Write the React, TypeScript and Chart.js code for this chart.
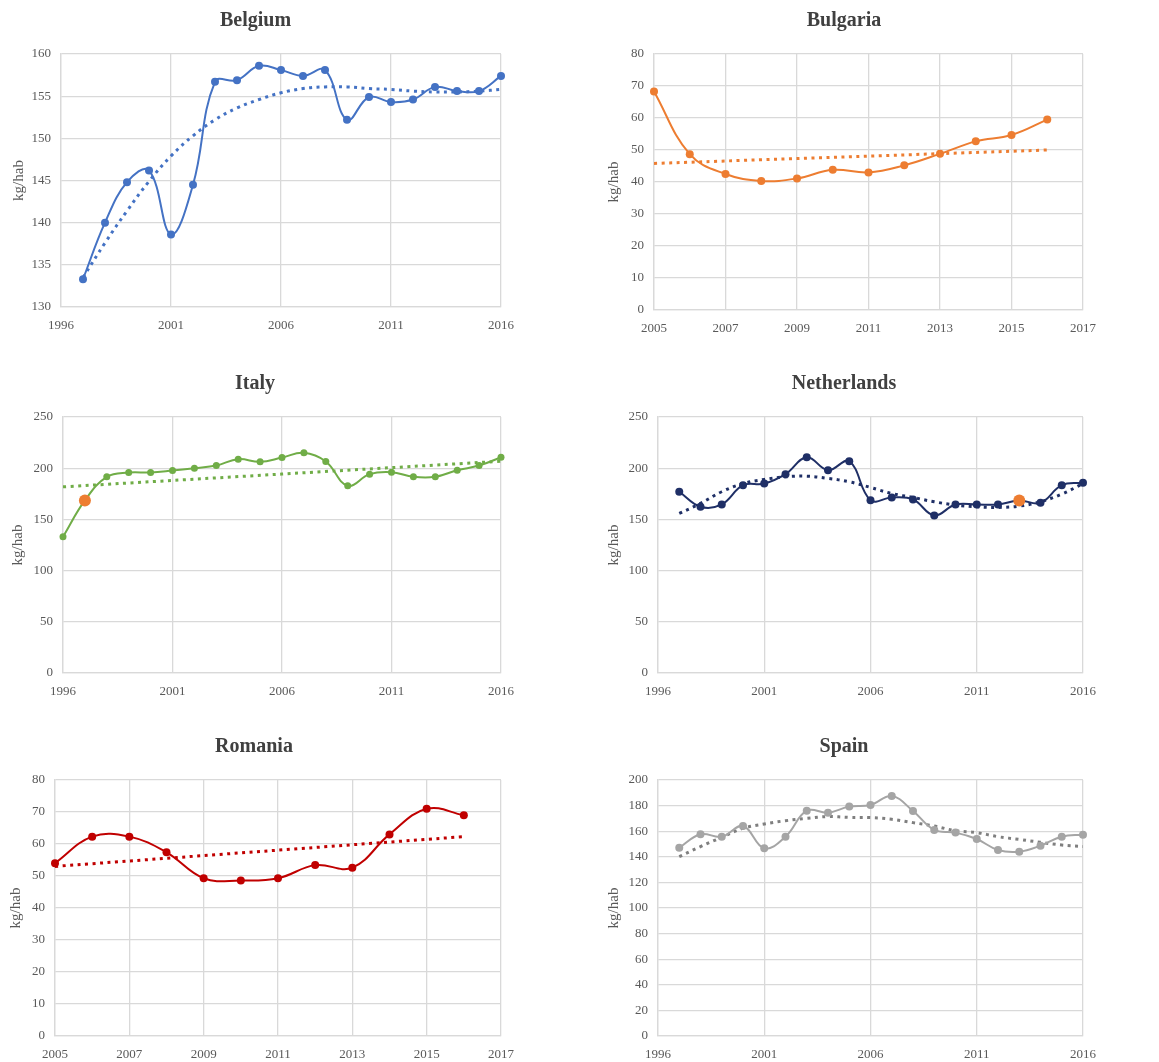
import React, { useEffect, useRef } from "react";
import { Chart, registerables } from "chart.js";

Chart.register(...registerables);

// ---------- DATA ----------
const BELGIUM_YEARS = [1997, 1998, 1999, 2000, 2001, 2002, 2003, 2004, 2005, 2006, 2007, 2008, 2009, 2010, 2011, 2012, 2013, 2014, 2015, 2016];
const BELGIUM_VALUES = [133.3, 140.0, 144.8, 146.2, 138.6, 144.5, 156.7, 156.9, 158.6, 158.1, 157.4, 158.1, 152.2, 154.9, 154.3, 154.6, 156.1, 155.6, 155.6, 157.4];
const BELGIUM_TREND_YEARS = BELGIUM_YEARS;
const BELGIUM_TREND = [133.5, 137.6, 141.4, 144.9, 147.9, 150.3, 152.2, 153.6, 154.6, 155.4, 155.9, 156.1, 156.1, 155.9, 155.8, 155.6, 155.5, 155.5, 155.6, 155.8];

const BULGARIA_YEARS = [2005, 2006, 2007, 2008, 2009, 2010, 2011, 2012, 2013, 2014, 2015, 2016];
const BULGARIA_VALUES = [68.3, 48.7, 42.5, 40.3, 41.1, 43.8, 43.0, 45.2, 48.8, 52.7, 54.7, 59.5];
const BULGARIA_TREND_YEARS = [2005, 2016];
const BULGARIA_TREND = [45.8, 50.0];

const ITALY_YEARS = [1996, 1997, 1998, 1999, 2000, 2001, 2002, 2003, 2004, 2005, 2006, 2007, 2008, 2009, 2010, 2011, 2012, 2013, 2014, 2015, 2016];
const ITALY_VALUES = [133, 168.5, 191.6, 195.8, 195.8, 197.7, 200, 202.6, 208.8, 206.2, 210.4, 215, 206.5, 182.8, 194.2, 196.1, 191.6, 191.6, 198, 202.6, 210.7];
const ITALY_TREND_YEARS = [1996, 2016];
const ITALY_TREND = [181.8, 206.8];

const NETHERLANDS_YEARS = [1997, 1998, 1999, 2000, 2001, 2002, 2003, 2004, 2005, 2006, 2007, 2008, 2009, 2010, 2011, 2012, 2013, 2014, 2015, 2016];
const NETHERLANDS_VALUES = [177, 162.3, 164.6, 183.4, 185, 194.2, 210.7, 198, 206.8, 168.8, 171.4, 169.5, 153.9, 164.6, 164.6, 164.6, 168.5, 166.2, 183.4, 185.7];
const NETHERLANDS_TREND_YEARS = NETHERLANDS_YEARS;
const NETHERLANDS_TREND = [155.8, 165.6, 177, 185, 189, 191.6, 192.2, 190, 186.7, 181.2, 175.3, 171.4, 167.2, 164, 162.3, 161.7, 163, 167.2, 174.7, 185];

const ROMANIA_YEARS = [2005, 2006, 2007, 2008, 2009, 2010, 2011, 2012, 2013, 2014, 2015, 2016];
const ROMANIA_VALUES = [54, 62.3, 62.3, 57.4, 49.3, 48.6, 49.3, 53.4, 52.6, 63, 71, 69];
const ROMANIA_TREND_YEARS = [2005, 2016];
const ROMANIA_TREND = [53, 62.3];

const SPAIN_YEARS = [1997, 1998, 1999, 2000, 2001, 2002, 2003, 2004, 2005, 2006, 2007, 2008, 2009, 2010, 2011, 2012, 2013, 2014, 2015, 2016];
const SPAIN_VALUES = [147.1, 157.6, 155.7, 164, 146.6, 155.7, 176, 174.5, 179.2, 180.5, 187.5, 175.8, 161, 158.9, 153.9, 145.3, 144, 148.7, 155.7, 157.3];
const SPAIN_TREND_YEARS = SPAIN_YEARS;
const SPAIN_TREND = [140.1, 148, 155.2, 162.2, 165.6, 168.2, 170, 171.4, 170.8, 170.6, 169.3, 166.7, 164, 160.4, 158.9, 155.7, 153.6, 151.3, 149.2, 148];

const Y_LABEL = "kg/hab";
const HIGHLIGHT_COLOR = "#ED7D31";

// ---------- PANEL CONFIGS ----------
type PanelCfg = {
  title: string;
  years: number[];
  values: number[];
  trendYears: number[];
  trend: number[];
  color: string;
  trendColor: string;
  xMin: number; xMax: number; xStep: number;
  yMin: number; yMax: number; yStep: number;
  highlight?: number;
  pointR: number;
  // layout
  yTitleX: number; L: number; R: number; T: number; B: number;
};

const PANELS: PanelCfg[] = [
  { title: "Belgium", years: BELGIUM_YEARS, values: BELGIUM_VALUES, trendYears: BELGIUM_TREND_YEARS, trend: BELGIUM_TREND,
    color: "#4472C4", trendColor: "#4472C4", xMin: 1996, xMax: 2016, xStep: 5, yMin: 130, yMax: 160, yStep: 5, pointR: 4,
    yTitleX: 19, L: 61, R: 505, T: 54, B: 307 },
  { title: "Bulgaria", years: BULGARIA_YEARS, values: BULGARIA_VALUES, trendYears: BULGARIA_TREND_YEARS, trend: BULGARIA_TREND,
    color: "#ED7D31", trendColor: "#ED7D31", xMin: 2005, xMax: 2017, xStep: 2, yMin: 0, yMax: 80, yStep: 10, pointR: 4,
    yTitleX: 614, L: 654, R: 1087, T: 54, B: 310 },
  { title: "Italy", years: ITALY_YEARS, values: ITALY_VALUES, trendYears: ITALY_TREND_YEARS, trend: ITALY_TREND,
    color: "#70AD47", trendColor: "#70AD47", xMin: 1996, xMax: 2016, xStep: 5, yMin: 0, yMax: 250, yStep: 50, highlight: 1, pointR: 3.5,
    yTitleX: 18, L: 63, R: 505, T: 417, B: 673 },
  { title: "Netherlands", years: NETHERLANDS_YEARS, values: NETHERLANDS_VALUES, trendYears: NETHERLANDS_TREND_YEARS, trend: NETHERLANDS_TREND,
    color: "#1F2F66", trendColor: "#1F2F66", xMin: 1996, xMax: 2016, xStep: 5, yMin: 0, yMax: 250, yStep: 50, highlight: 16, pointR: 4,
    yTitleX: 614, L: 658, R: 1087, T: 417, B: 673 },
  { title: "Romania", years: ROMANIA_YEARS, values: ROMANIA_VALUES, trendYears: ROMANIA_TREND_YEARS, trend: ROMANIA_TREND,
    color: "#C00000", trendColor: "#C00000", xMin: 2005, xMax: 2017, xStep: 2, yMin: 0, yMax: 80, yStep: 10, pointR: 4,
    yTitleX: 16, L: 55, R: 505, T: 780, B: 1036 },
  { title: "Spain", years: SPAIN_YEARS, values: SPAIN_VALUES, trendYears: SPAIN_TREND_YEARS, trend: SPAIN_TREND,
    color: "#A5A5A5", trendColor: "#7F7F7F", xMin: 1996, xMax: 2016, xStep: 5, yMin: 0, yMax: 200, yStep: 20, pointR: 4,
    yTitleX: 614, L: 658, R: 1087, T: 780, B: 1036 },
];

const SERIF = "'Liberation Serif', 'Times New Roman', serif";
const GRID = "#D9D9D9";
const TICK = "#595959";

const TITLE_BOX = 53; // title area height above plot
const X_AXIS_H = 28;
const RIGHT_PAD = 20;
const Y_TITLE_OFFSET = 13; // lineHeight/2 + padding

function Panel({ cfg }: { cfg: PanelCfg }) {
  const ref = useRef<HTMLCanvasElement>(null);
  const left = cfg.yTitleX - Y_TITLE_OFFSET;
  const top = cfg.T - TITLE_BOX;
  const width = cfg.R - left + RIGHT_PAD;
  const height = cfg.B - cfg.T + TITLE_BOX + X_AXIS_H;
  const yW = cfg.L - left;

  useEffect(() => {
    const n = cfg.values.length;
    const pointColors = cfg.values.map((_, i) => (i === cfg.highlight ? HIGHLIGHT_COLOR : cfg.color));
    const pointRadii = cfg.values.map((_, i) => (i === cfg.highlight ? 6 : cfg.pointR));
    const chart = new Chart(ref.current!, {
      type: "line",
      data: {
        datasets: [
          {
            data: cfg.years.map((x, i) => ({ x, y: cfg.values[i] })),
            borderColor: cfg.color,
            borderWidth: 2,
            backgroundColor: cfg.color,
            pointBackgroundColor: pointColors,
            pointBorderColor: pointColors,
            pointBorderWidth: 0,
            pointRadius: pointRadii,
            tension: 0.4,
            clip: false as any,
            order: 1,
          },
          {
            data: cfg.trendYears.map((x, i) => ({ x, y: cfg.trend[i] })),
            borderColor: cfg.trendColor,
            borderWidth: 3,
            borderDash: [3, 4.5],
            pointRadius: 0,
            tension: 0.4,
            fill: false,
            order: 2,
          },
        ],
      },
      options: {
        responsive: false,
        animation: false,
        devicePixelRatio: 1,
        layout: { padding: { left: 0, right: RIGHT_PAD, top: 0, bottom: 0 } },
        plugins: {
          legend: { display: false },
          tooltip: { enabled: false },
          title: {
            display: true,
            text: cfg.title,
            color: "#404040",
            font: { family: SERIF, size: 20, weight: "bold", lineHeight: 1.2 },
            padding: { top: 8, bottom: 21 },
          },
        },
        scales: {
          x: {
            type: "linear",
            min: cfg.xMin,
            max: cfg.xMax,
            ticks: {
              stepSize: cfg.xStep,
              callback: (v: any) => String(v),
              color: TICK,
              font: { family: SERIF, size: 13 },
              padding: 11,
              maxRotation: 0,
              autoSkip: false,
            },
            grid: { color: GRID, lineWidth: 1.3, drawTicks: false },
            border: { color: GRID, width: 1.3 },
            afterFit: (s: any) => { s.height = X_AXIS_H; },
          },
          y: {
            type: "linear",
            min: cfg.yMin,
            max: cfg.yMax,
            ticks: {
              stepSize: cfg.yStep,
              callback: (v: any) => String(v),
              color: TICK,
              font: { family: SERIF, size: 13 },
              padding: 10,
            },
            grid: { color: GRID, lineWidth: 1.3, drawTicks: false },
            border: { color: GRID, width: 1.3 },
            title: {
              display: true,
              text: Y_LABEL,
              color: TICK,
              font: { family: SERIF, size: 15, lineHeight: 1.2 },
              padding: { top: 4, bottom: 4 },
            },
            afterFit: (s: any) => { s.width = yW; },
          },
        },
      } as any,
    });
    return () => chart.destroy();
  }, []);

  return (
    <canvas
      ref={ref}
      width={width}
      height={height}
      style={{ position: "absolute", left, top, width, height }}
    />
  );
}

export default function App() {
  return (
    <div
      style={{
        position: "absolute",
        left: 0,
        top: 0,
        width: 1159,
        height: 1062,
        overflow: "hidden",
        background: "#ffffff",
      }}
    >
      {PANELS.map((p) => (
        <Panel key={p.title} cfg={p} />
      ))}
    </div>
  );
}
